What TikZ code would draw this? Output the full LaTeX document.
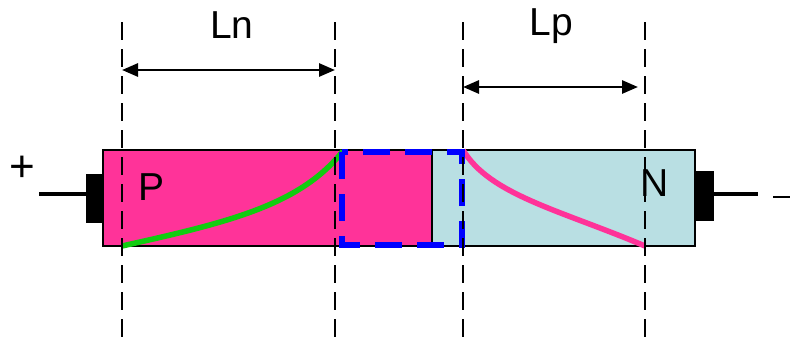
\documentclass[tikz,border=0pt]{standalone}
\usepackage{fontspec}
\setmainfont{Liberation Sans}
\usetikzlibrary{arrows.meta}
\definecolor{ppink}{HTML}{FF3399}
\definecolor{nblue}{HTML}{B9DFE3}
\definecolor{cgreen}{HTML}{11CC11}
\begin{document}
\begin{tikzpicture}[x=1pt,y=-1pt,
  guide/.style={black,line width=2.6pt,dash pattern=on 18pt off 9pt},
  dim/.style={line width=2.8pt,{Triangle[length=16pt,width=13pt]}-{Triangle[length=16pt,width=13pt]}},
  lbl/.style={font=\fontsize{39}{41}\selectfont,inner sep=0pt},
  lead/.style={line width=3.2pt}]
\useasboundingbox (0,0) rectangle (791,338);
% bar
\fill[ppink] (103,150) rectangle (432,246);
\fill[nblue] (432,150) rectangle (695,246);
\draw[line width=2.8pt] (103,150) rectangle (695,246);
\draw[line width=2.8pt] (432,150) -- (432,246);
% electrodes
\fill (86,174) rectangle (103,223);
\fill (695,171) rectangle (714,221);
\coordinate (lA) at (39,194); \coordinate (lB) at (86,194);
\coordinate (rA) at (714,194); \coordinate (rB) at (758,194);
\draw[lead] (lA) -- (lB);
\draw[lead] (rA) -- (rB);
\node[lbl,font=\fontsize{44}{46}\selectfont] (plus) at (22,169) {+};
\coordinate (m1) at (773,197); \coordinate (m2) at (790,197);
\draw[line width=2.6pt] (m1) -- (m2);
% curves
\draw[cgreen,line width=5.5pt] (122,246) .. controls (230,222) and (300,205) .. (343,151);
\draw[ppink,line width=5.5pt] (463,150) .. controls (490,195) and (560,210) .. (645,246);
% blue dashed box
\draw[blue,line width=6pt,dash pattern=on 27pt off 15pt] (342,152) rectangle (462,245);
% guides
\foreach \x/\n in {122/g1,335/g2,463/g3,645/g4}{
  \coordinate (\n t) at (\x,22);
  \coordinate (\n b) at (\x,338);
  \draw[guide] (\n t) -- (\n b);
}
% dimension arrows
\coordinate (a1) at (122,70); \coordinate (a2) at (335,70);
\coordinate (b1) at (463,87); \coordinate (b2) at (638,87);
\draw[dim] (a1) -- (a2);
\draw[dim] (b1) -- (b2);
\node[lbl] (Ln) at (232,25) {Ln};
\node[lbl] (Lp) at (551,26) {Lp};
\node[lbl] (P) at (152,187) {P};
\node[lbl] (N) at (655,183) {N};
\end{tikzpicture}
\end{document}
